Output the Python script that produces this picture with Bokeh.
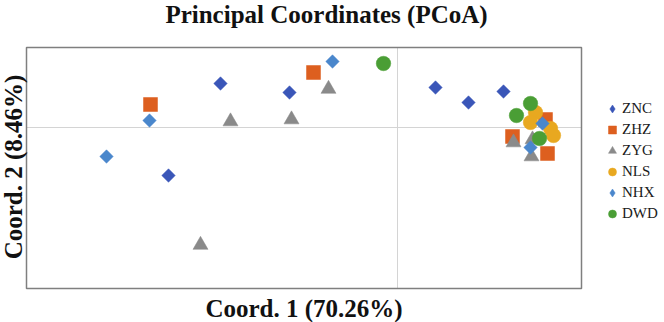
import math

from bokeh.embed import file_html
from bokeh.models import Label, Legend, LegendItem, Range1d
from bokeh.plotting import figure
from bokeh.resources import INLINE

# PCoA scores (Coord. 1, Coord. 2) per population
znc_x = [-0.177, -0.229, -0.108, 0.038, 0.071, 0.106]
znc_y = [0.044, -0.048, 0.035, 0.040, 0.025, 0.036]

zhz_x = [-0.247, -0.084, 0.148, 0.115, 0.150]
zhz_y = [0.023, 0.055, 0.008, -0.009, -0.026]

zyg_x = [-0.167, -0.197, -0.106, -0.069, 0.116, 0.135, 0.134]
zyg_y = [0.006, -0.1175, 0.008, 0.0385, -0.015, -0.012, -0.029]

nls_x = [0.138, 0.133, 0.153, 0.156]
nls_y = [0.015, 0.005, -0.001, -0.008]

nhx_x = [-0.291, -0.248, -0.065, 0.145, 0.133]
nhx_y = [-0.029, 0.007, 0.066, 0.004, -0.020]

dwd_x = [-0.014, 0.133, 0.119, 0.142]
dwd_y = [0.064, 0.024, 0.012, -0.011]

title_text = "Principal Coordinates (PCoA)"
x_label = "Coord. 1 (70.26%)"
y_label = "Coord. 2 (8.46%)"

# extent of the plotting box in score units
box_left, box_right = -0.371, 0.184
box_bottom, box_top = -0.161, 0.080

SERIF = "Liberation Serif"
W, H = 664, 322

# the canvas-wide frame leaves room round the box for titles and the key
p = figure(
    width=W, height=H,
    x_range=Range1d(box_left - 0.026, box_right + 0.083),
    y_range=Range1d(box_bottom - 0.034, box_top + 0.047),
    x_axis_location=None, y_axis_location=None,
    output_backend="svg", toolbar_location=None,
    min_border=0,
)
p.grid.visible = False
p.outline_line_color = None
p.background_fill_color = "white"
p.border_fill_color = "white"

# zero lines inside the box
p.segment(x0=[0, box_left], y0=[box_bottom, 0], x1=[0, box_right], y1=[box_top, 0],
          line_color="#D4D4D4", line_width=1)
# box outline
p.quad(left=[box_left], right=[box_right], bottom=[box_bottom], top=[box_top],
       fill_color=None, line_color="#7F7F7F", line_width=1.5)

series = [
    ("ZNC", znc_x, znc_y, "diamond", "#3A56B8"),
    ("ZHZ", zhz_x, zhz_y, "square", "#DD5F1F"),
    ("ZYG", zyg_x, zyg_y, "triangle", "#8A8A8A"),
    ("NLS", nls_x, nls_y, "circle", "#E8A820"),
    ("NHX", nhx_x, nhx_y, "diamond", "#4A87CC"),
    ("DWD", dwd_x, dwd_y, "circle", "#4A9E35"),
]
marker_style = {
    # diamonds are squares turned by 45 degrees
    "diamond": dict(marker="square", size=9.5, angle=math.pi / 4),
    "square": dict(marker="square", size=14, angle=0),
    "triangle": dict(marker="triangle", size=15, angle=0),
    "circle": dict(marker="circle", size=14.5, angle=0),
}

items = []
for name, xs, ys, kind, color in series:
    r = p.scatter(xs, ys, fill_color=color, line_color=color, line_width=0.5,
                  **marker_style[kind])
    if kind == "diamond":
        # the key ignores marker angles, so it gets its own (undrawn) diamond glyph
        key = p.scatter(x=[math.nan], y=[math.nan], marker="diamond", size=9,
                        fill_color=color, line_color=color, line_width=0.5)
        items.append(LegendItem(label=name, renderers=[key]))
    else:
        items.append(LegendItem(label=name, renderers=[r]))

legend = Legend(
    items=items, location=(602, 98), margin=0, padding=0,
    glyph_width=20, glyph_height=21, label_height=21, spacing=0,
    label_standoff=0, label_text_font=SERIF, label_text_font_size="15px",
    label_text_color="#1A1A1A", border_line_color=None,
    background_fill_alpha=0,
)
p.add_layout(legend)

text_style = dict(x_units="screen", y_units="screen", text_align="center",
                  text_baseline="alphabetic", text_font=SERIF,
                  text_font_style="bold", text_color="#111111")
p.add_layout(Label(x=326, y=H - 13.7, text=title_text, text_font_size="25px", **text_style))
p.add_layout(Label(x=303.5, y=H - 308, text=x_label, text_font_size="25px", **text_style))
p.add_layout(Label(x=12.8, y=H - 166.5, text=y_label, angle=math.pi / 2,
                   text_font_size="25px", **text_style))

open("out.html", "w").write(file_html(p, INLINE))
